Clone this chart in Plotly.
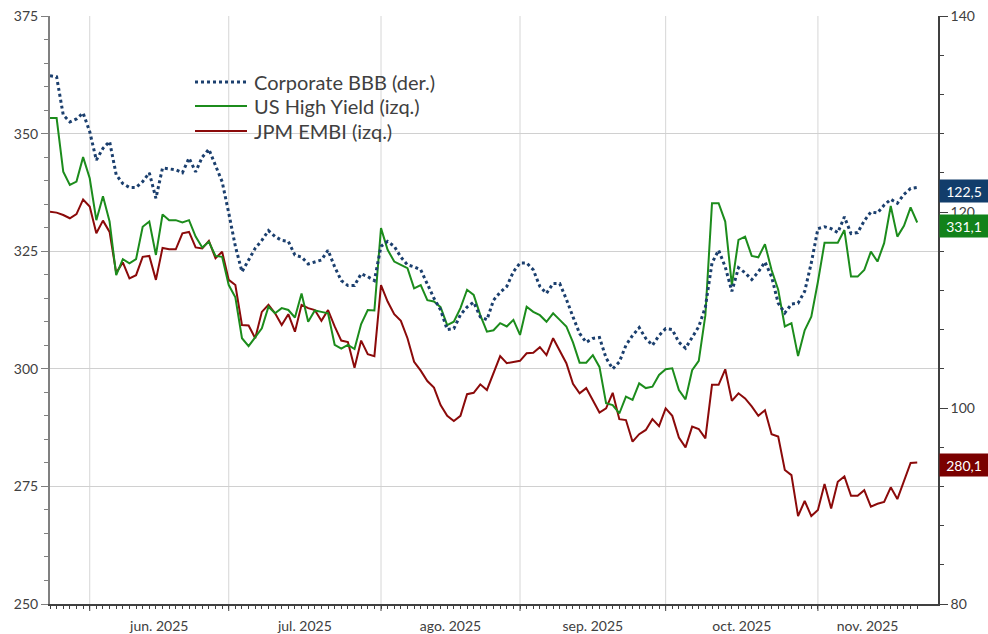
import pandas as pd
import plotly.graph_objects as go

DATES = pd.bdate_range("2025-05-23", periods=132)

BBB = [133.9, 133.8, 129.9, 129.2, 129.5, 130.1, 128.2, 125.3, 126.5, 127.2,
       123.8, 122.9, 122.5, 122.5, 123.1, 124.0, 121.4, 124.5, 124.4, 124.3,
       124.0, 125.5, 124.1, 125.6, 126.4, 124.8, 123.1, 119.9, 116.5, 113.9,
       115.1, 116.3, 117.1, 118.1, 117.5, 117.1, 117.0, 115.6, 115.4, 114.7,
       114.9, 115.1, 116.1, 114.4, 113.0, 112.5, 112.5, 113.7, 113.4, 113.0,
       116.5, 117.0, 116.5, 115.4, 114.6, 114.4, 114.1, 112.6, 111.2, 110.0,
       108.0, 108.1, 109.5, 110.3, 110.8, 109.3, 109.0, 111.0, 111.8, 112.4,
       113.9, 114.8, 114.8, 114.1, 112.4, 111.7, 112.7, 112.7, 111.1, 109.3,
       107.6, 106.7, 107.1, 107.2, 105.1, 104.0, 104.7, 106.4, 107.4, 108.2,
       107.1, 106.4, 107.4, 108.1, 108.0, 106.7, 106.1, 107.2, 108.3, 110.3,
       114.8, 116.1, 114.4, 111.9, 114.3, 113.8, 113.1, 113.9, 114.9, 113.4,
       110.7, 109.7, 110.6, 110.7, 111.9, 114.8, 118.3, 118.5, 118.3, 117.9,
       119.5, 117.8, 117.9, 119.1, 120.0, 119.9, 120.7, 121.3, 120.9, 121.8,
       122.4, 122.5]

HY = [353.3, 353.3, 341.9, 339.1, 339.8, 345.0, 340.5, 331.6, 336.7, 331.3,
      319.9, 323.3, 322.4, 323.3, 330.2, 331.3, 324.2, 332.8, 331.6, 331.6,
      331.1, 331.6, 328.1, 325.8, 327.0, 324.0, 323.8, 317.8, 315.2, 306.5,
      304.8, 306.7, 308.6, 313.2, 311.8, 312.9, 312.5, 310.9, 316.0, 310.0,
      312.4, 312.1, 311.8, 305.1, 304.3, 305.1, 304.2, 309.5, 312.5, 312.4,
      329.9, 325.3, 322.8, 322.1, 321.4, 317.1, 317.8, 314.6, 314.3, 313.1,
      309.3, 310.0, 312.9, 316.8, 315.7, 311.4, 307.9, 308.2, 309.7, 309.0,
      310.4, 307.2, 313.2, 312.1, 311.4, 310.0, 311.8, 310.4, 309.0, 305.6,
      301.3, 301.3, 302.9, 300.4, 292.7, 292.3, 290.5, 294.1, 293.4, 296.9,
      295.9, 296.2, 298.7, 299.9, 300.1, 295.5, 293.5, 299.7, 301.7, 311.4,
      335.2, 335.2, 331.3, 317.8, 327.4, 328.1, 324.0, 323.7, 326.5, 321.0,
      316.8, 309.0, 309.7, 302.7, 308.2, 311.1, 318.5, 326.8, 326.8, 326.8,
      329.5, 319.6, 319.6, 321.0, 324.9, 322.8, 326.7, 334.6, 328.1, 330.4,
      334.3, 331.1]

EMBI = [333.4, 333.2, 332.7, 332.0, 332.9, 336.0, 334.5, 328.8, 331.5, 329.1,
        320.4, 322.6, 319.2, 319.9, 323.8, 324.0, 318.9, 325.7, 325.4, 325.4,
        328.8, 329.1, 325.8, 325.6, 327.2, 323.5, 324.9, 318.9, 317.8, 309.3,
        309.2, 306.5, 312.1, 313.6, 311.8, 309.3, 311.6, 307.9, 313.6, 312.9,
        312.5, 310.2, 312.5, 309.0, 306.0, 305.7, 300.2, 306.0, 303.1, 302.7,
        317.8, 314.3, 311.6, 310.2, 306.5, 301.5, 299.6, 297.4, 296.0, 292.3,
        290.0, 288.9, 290.0, 294.6, 294.9, 296.7, 295.5, 299.2, 302.7, 301.2,
        301.5, 301.7, 303.3, 303.4, 304.6, 302.9, 306.5, 303.8, 301.2, 296.8,
        294.8, 295.9, 293.4, 290.7, 291.6, 294.9, 289.3, 289.1, 284.5, 286.1,
        287.0, 289.3, 287.8, 291.6, 290.0, 285.4, 283.3, 287.7, 287.2, 285.2,
        296.6, 296.6, 299.9, 293.2, 294.8, 293.7, 292.0, 290.0, 291.2, 286.1,
        285.6, 278.5, 277.4, 268.7, 271.9, 268.7, 270.0, 275.5, 270.3, 276.0,
        277.1, 273.0, 273.0, 274.2, 270.7, 271.3, 271.7, 274.8, 272.3, 276.0,
        280.0, 280.1]

SERIES_NAMES = ["Corporate BBB (der.)", "US High Yield (izq.)", "JPM EMBI (izq.)"]
MONTH_LABELS = ["jun. 2025", "jul. 2025", "ago. 2025", "sep. 2025", "oct. 2025", "nov. 2025"]
LEFT_TICKS = [250, 275, 300, 325, 350, 375]
RIGHT_TICKS = [80, 100, 120, 140]
SUBTITLE = "(puntos básicos)"

C_BBB, C_HY, C_EMBI = "#1b3f6e", "#1c8c1c", "#8b0a0a"
BOX_BBB, BOX_HY, BOX_EMBI = "#123d6b", "#12821a", "#7a0000"
TXT = "#404040"
FONT = "Lato"

x = list(range(len(DATES)))
months = list(DATES.month)
bounds = [i for i in range(1, len(DATES)) if months[i] != months[i - 1]]
edges = bounds + [len(DATES) - 1]
mids = [(edges[k] + edges[k + 1]) / 2 for k in range(len(edges) - 1)]

W, H = 988, 634
ML, MR, MT, MB = 50, 50, 16, 30
PW, PH = W - ML - MR, H - MT - MB

def px(xp):
    return (xp - ML) / PW

def py(yp):
    return (H - MB - yp) / PH

fig = go.Figure()
fig.add_trace(go.Scatter(x=x, y=EMBI, name=SERIES_NAMES[2], mode="lines",
                         line=dict(color=C_EMBI, width=2), showlegend=False))
fig.add_trace(go.Scatter(x=x, y=HY, name=SERIES_NAMES[1], mode="lines",
                         line=dict(color=C_HY, width=2), showlegend=False))
fig.add_trace(go.Scatter(x=x, y=BBB, name=SERIES_NAMES[0], mode="lines", yaxis="y2",
                         line=dict(color=C_BBB, width=3, dash="dot"), showlegend=False))

shapes = []
for b in bounds:
    shapes.append(dict(type="line", xref="x", yref="paper", x0=b, x1=b, y0=0, y1=1,
                       line=dict(color="#d6d6d6", width=1), layer="below"))
    shapes.append(dict(type="line", xref="x", yref="paper", x0=b, x1=b, y0=-7 / PH, y1=0,
                       line=dict(color=TXT, width=1), layer="above"))

annotations = []
# custom legend
leg_y = [82, 106, 131]
leg_style = [dict(color=C_BBB, width=3, dash="dot"), dict(color=C_HY, width=2), dict(color=C_EMBI, width=2)]
for name, yy, st in zip(SERIES_NAMES, leg_y, leg_style):
    shapes.append(dict(type="line", xref="paper", yref="paper", x0=px(195), x1=px(247),
                       y0=py(yy), y1=py(yy), line=st, layer="above"))
    annotations.append(dict(xref="paper", yref="paper", x=px(252), y=py(yy), xanchor="left",
                            yanchor="middle", text=name, showarrow=False,
                            font=dict(family=FONT, size=20, color=TXT)))

# last-value tags
for val, yref, col in [(BBB[-1], "y2", BOX_BBB), (HY[-1], "y", BOX_HY), (EMBI[-1], "y", BOX_EMBI)]:
    annotations.append(dict(xref="paper", yref=yref, x=1, y=val, xanchor="left", yanchor="middle",
                            xshift=1, yshift=-3, text=f"{val:.1f}".replace(".", ","),
                            showarrow=False, bgcolor=col, width=48, height=22, borderpad=0,
                            align="center", font=dict(family=FONT, size=14, color="white")))

annotations.append(dict(xref="paper", yref="paper", x=0, y=1, xanchor="left", yanchor="bottom",
                        yshift=14, text=SUBTITLE, showarrow=False,
                        font=dict(family=FONT, size=17, color=TXT)))

fig.update_layout(
    width=W, height=H,
    margin=dict(l=ML, r=MR, t=MT, b=MB, pad=0, autoexpand=False),
    paper_bgcolor="white", plot_bgcolor="white",
    font=dict(family=FONT, color=TXT, size=14),
    showlegend=False,
    shapes=shapes, annotations=annotations,
    xaxis=dict(range=[0, PW / 6.62], tickmode="array", tickvals=mids, ticktext=MONTH_LABELS,
               ticks="", showgrid=False, zeroline=False, showline=True, automargin=False,
               ticklabelstandoff=8,
               linecolor=TXT, linewidth=1.5, tickfont=dict(family=FONT, size=14, color=TXT),
               minor=dict(tickmode="array", tickvals=x, ticks="outside", ticklen=3,
                          tickcolor=TXT, tickwidth=1, showgrid=False)),
    yaxis=dict(range=[250, 375], tickmode="array", tickvals=LEFT_TICKS, ticks="outside",
               ticklen=7, tickcolor="#7f7f7f", showgrid=True, gridcolor="#d0d0d0", gridwidth=1,
               showline=True, linecolor="#808080", linewidth=2, zeroline=False, automargin=False,
               tickfont=dict(family=FONT, size=14, color=TXT),
               minor=dict(dtick=5, ticks="outside", ticklen=4, tickcolor="#7f7f7f", showgrid=False)),
    yaxis2=dict(range=[80, 140], tickmode="array", tickvals=RIGHT_TICKS, overlaying="y",
                side="right", anchor="x", ticks="outside", ticklen=8, tickcolor=TXT, automargin=False,
                showgrid=False, showline=True, linecolor=TXT, linewidth=1.5, zeroline=False,
                tickfont=dict(family=FONT, size=14, color=TXT),
                minor=dict(dtick=4, ticks="outside", ticklen=4, tickcolor=TXT, showgrid=False)),
)

fig.write_html("out.html", config={"displayModeBar": False},
               post_script="document.body.style.margin='0px';document.body.style.overflow='hidden';")
